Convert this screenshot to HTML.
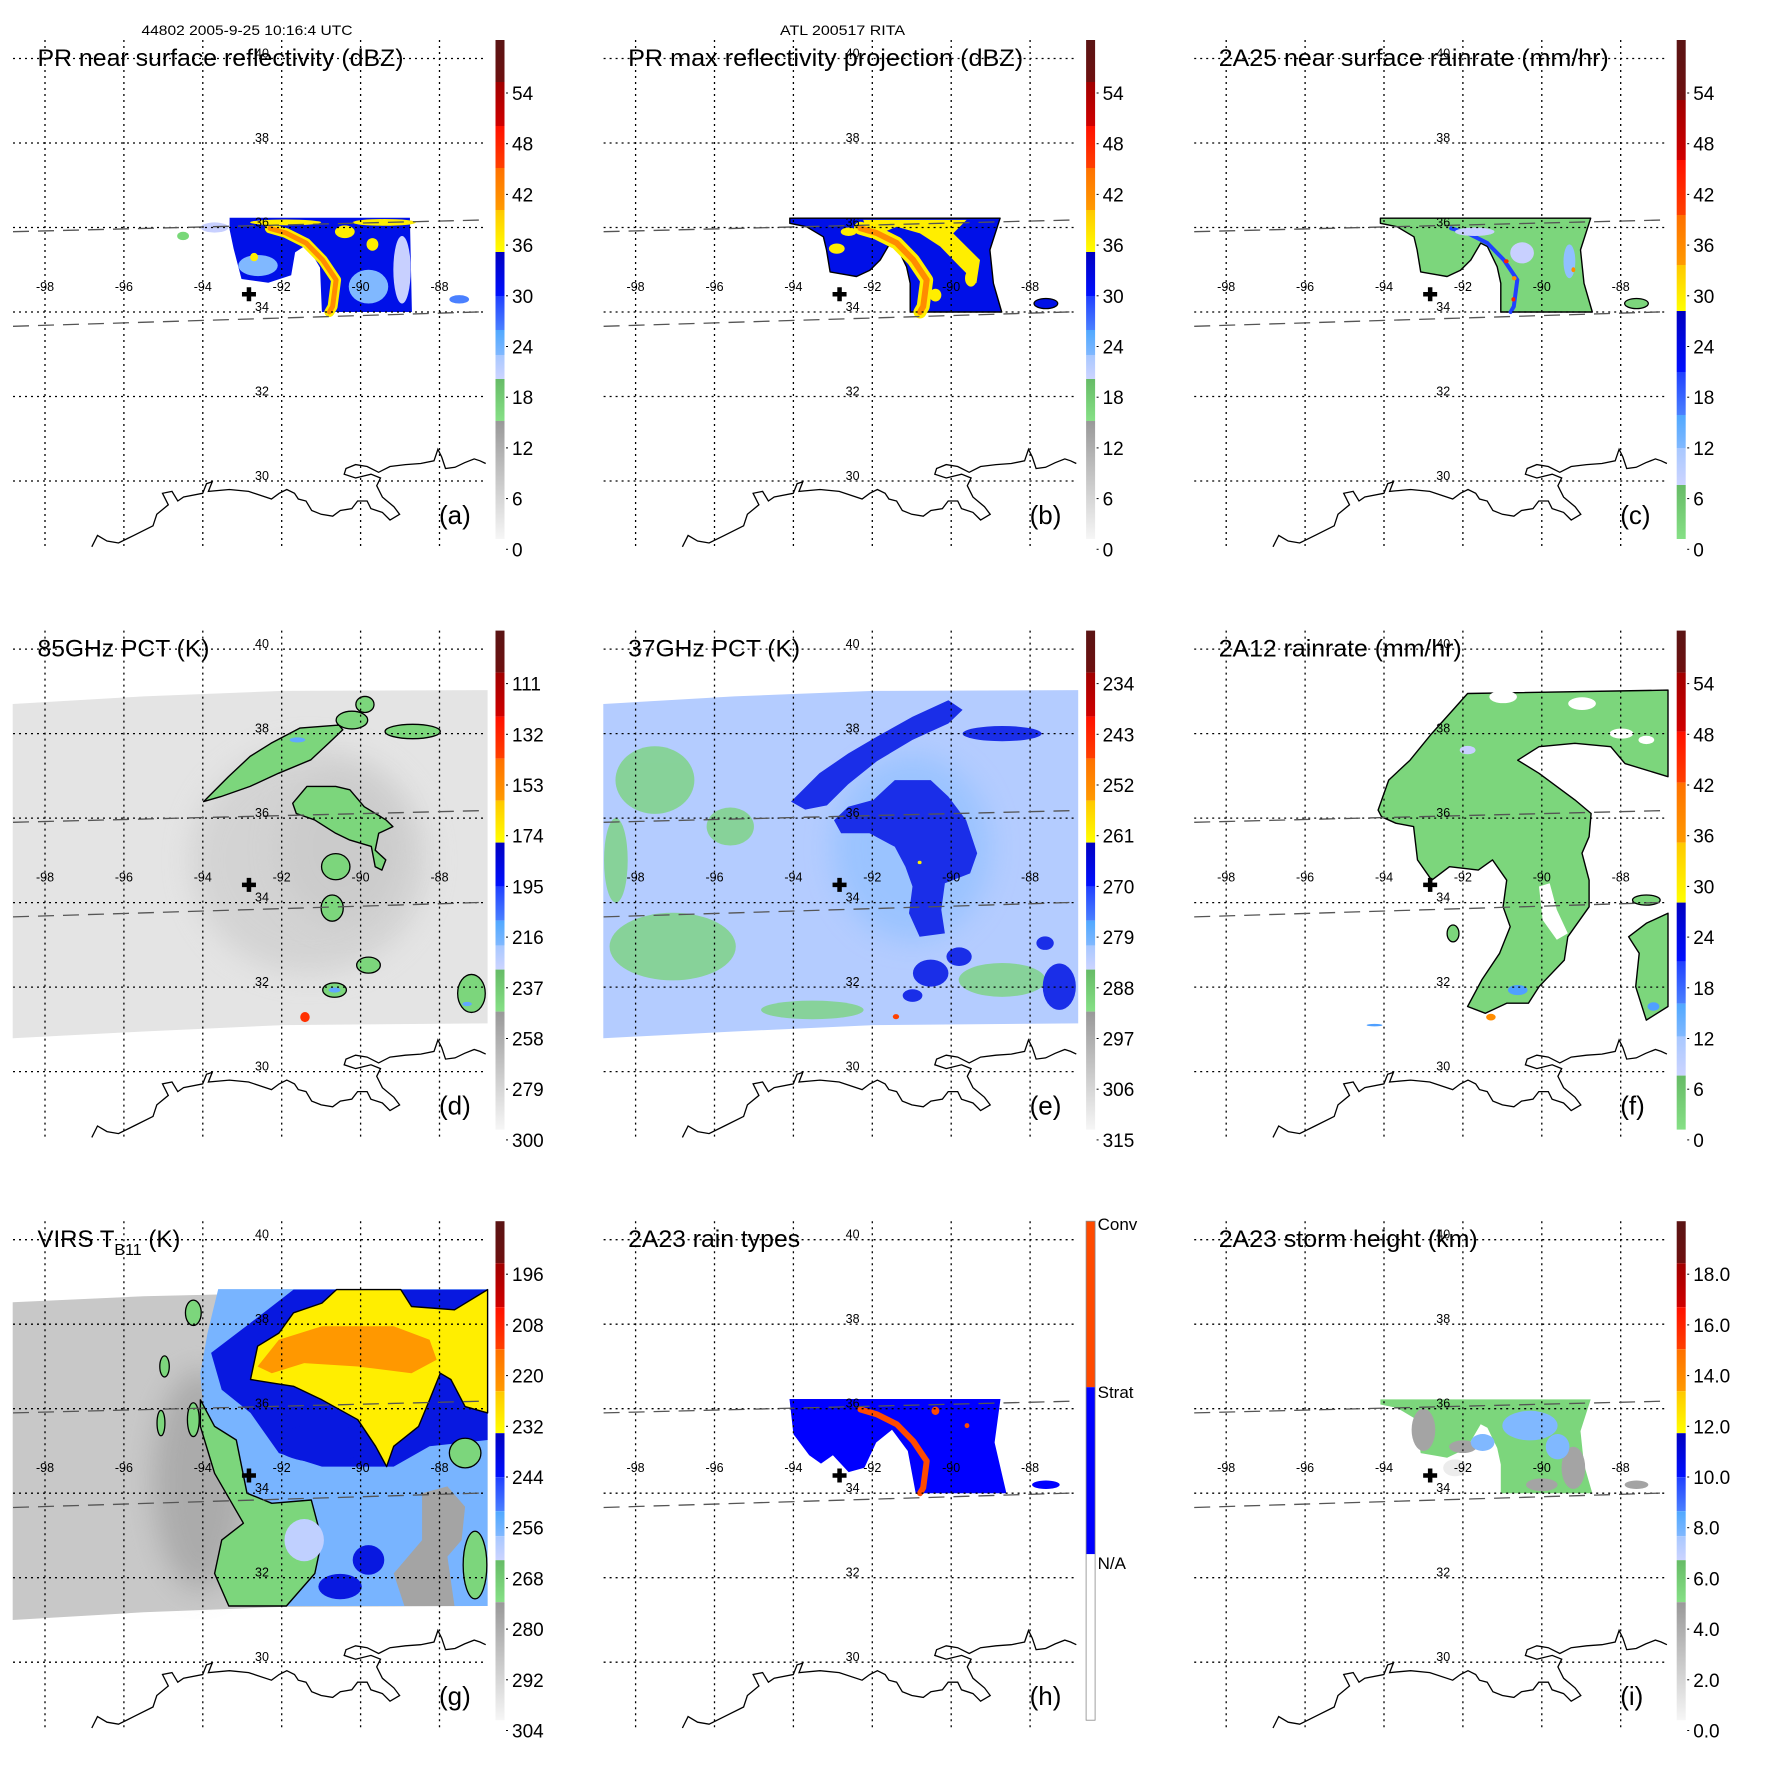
<!DOCTYPE html>
<html><head><meta charset="utf-8"><style>
html,body{margin:0;padding:0;background:#fff;}
svg{display:block;font-family:"Liberation Sans",sans-serif;}
</style></head><body>
<svg id="fig" xmlns="http://www.w3.org/2000/svg" width="1771" height="1771" viewBox="0 0 1771 1771">
<defs>
<filter id="blur" x="-50%" y="-50%" width="200%" height="200%"><feGaussianBlur stdDeviation="14"/></filter>
</defs>
<text x="141.5" y="35" font-size="14" textLength="211" lengthAdjust="spacingAndGlyphs">44802 2005-9-25 10:16:4 UTC</text>
<text x="780" y="35" font-size="14" textLength="125" lengthAdjust="spacingAndGlyphs">ATL 200517 RITA</text>
</svg>
<script>
// ---------- colormap data ----------
const dbzBounds=[3,9,15,21,24,27,30,36,39,45,51,57];
const dbzColors=['#f0f0f0','#d4d4d4','#ababab','#78d878','#c8d0ff','#80b8ff','#4a80ff','#0010e8','#ffee00','#ff8c00','#ff2000','#b00000','#601818'];
const rainBounds=[6,9,12,18,24,30,36,42,48,54];
const rainColors=['#7cd67c','#c8d0ff','#90c0ff','#50a0ff','#2040ff','#0000e0','#ffee00','#ff8c00','#ff2000','#b00000','#601818'];
const p85Bounds=[150,170,180,205,225,250,262,275,290];
const p85Colors=['#ff3000','#ff9000','#ffee00','#1030f0','#60a8ff','#7cd67c','#a8a8a8','#c6c6c6','#e4e4e4','#f2f2f2'];
const p37Bounds=[256,262,268,272,276,280,286,292];
const p37Colors=['#ff4000','#ffee00','#1a2ee8','#3060ff','#5c9cff','#90c0ff','#b4ccff','#78d478','#a8a8a8'];
const virsBounds=[214,226,238,244,250,256,262,274,282,292];
const virsColors=['#ff3000','#ff9800','#ffee00','#0818e0','#3050ff','#78b4ff','#c0d0ff','#7cd67c','#a4a4a4','#c8c8c8','#dedede'];
const typeBounds=[1.5,2.5];
const typeColors=['#ffffff','#0000ff','#ff4a00'];
const htBounds=[2,5,7,8,10,12];
const htColors=['#ececec','#a4a4a4','#7cd67c','#c0d0ff','#80b8ff','#1030f0','#ffee00'];

// ---------- PR swath shapes (lon/lat) ----------
const prBodyWide=[[-94.09,36.22],[-88.76,36.22],[-89.02,35.47],[-88.93,34.68],[-88.72,34.0],[-91.04,34.0],[-91.04,34.68],[-91.13,35.07],[-91.38,35.55],[-91.55,35.63],[-91.80,35.23],[-92.06,34.99],[-92.40,34.84],[-92.65,34.88],[-93.07,34.95],[-93.16,35.47],[-93.24,35.78],[-93.67,36.02],[-94.09,36.10]];
const prBodyA=[[-93.32,36.23],[-88.75,36.23],[-88.70,34.0],[-90.98,34.0],[-91.03,35.05],[-91.37,35.59],[-91.66,35.41],[-91.76,34.87],[-92.34,34.69],[-93.02,34.78],[-93.22,35.5],[-93.32,35.95]];
const ribbonLonLat=[[-92.3,35.98],[-91.89,35.87],[-91.38,35.63],[-90.96,35.23],[-90.62,34.76],[-90.71,34.13],[-90.79,34.0]];
const yellowZoneB=[[-92.23,36.18],[-89.61,36.18],[-89.95,35.86],[-89.27,35.23],[-89.36,34.68],[-89.78,35.07],[-90.28,35.55],[-90.79,35.86],[-91.38,36.02],[-91.80,35.86],[-92.14,35.94]];

// panel a
const aPolys=[[31,prBodyA]];
const aBlobs=[[-92.6,35.1,0.5,0.25,25],[-89.8,34.6,0.5,0.4,25],[-88.95,35.0,0.22,0.8,23],[-93.7,36.0,0.35,0.12,22],[-91.9,36.12,0.9,0.07,37],[-89.4,36.12,0.8,0.08,37],[-90.4,35.9,0.25,0.15,37],[-89.7,35.6,0.15,0.15,37],[-92.7,35.3,0.1,0.1,37],[-87.5,34.3,0.25,0.1,27],[-94.5,35.8,0.15,0.1,18]];
const aRibbon=[44];
// panel b
const bPolys=[[32,prBodyWide],[37,yellowZoneB]];
const bBlobs=[[-92.9,35.5,0.2,0.12,37],[-89.5,34.8,0.15,0.2,37],[-92.6,35.9,0.2,0.1,37],[-87.6,34.2,0.3,0.12,32],[-90.4,34.4,0.15,0.15,36.5]];
const bRibbon=[44];
// panel c
const cPolys=[[3,prBodyWide]];
const cBlobs=[[-91.7,35.9,0.5,0.1,8],[-89.3,35.2,0.15,0.4,10],[-90.5,35.4,0.3,0.25,8],[-87.6,34.2,0.3,0.12,3]];
const cRibbon=[20];
const cSpots=[[-90.9,35.2,0.06,0.05,45],[-90.7,34.8,0.06,0.05,40],[-90.72,34.3,0.05,0.05,45],[-89.2,35.0,0.05,0.06,40]];
// panel h
const hPolys=[[2,[[-94.1,36.23],[-88.75,36.23],[-88.9,35.2],[-88.6,34.0],[-90.9,34.0],[-91.1,35.0],[-91.5,35.5],[-91.9,35.2],[-92.2,34.6],[-92.6,34.5],[-93.0,34.9],[-93.3,34.7],[-93.6,34.9],[-94.0,35.4]]]];
const hBlobs=[[-87.6,34.2,0.35,0.1,2],[-90.4,35.95,0.1,0.1,3],[-89.6,35.6,0.06,0.06,3]];
const hRibbon=[3];
// panel i
const iPolys=[[6,prBodyWide]];
const iBlobs=[[-93.0,35.5,0.3,0.5,4],[-92.0,35.1,0.35,0.15,4],[-89.2,34.6,0.3,0.5,4],[-90.0,34.2,0.4,0.15,4],[-90.3,35.6,0.7,0.35,8.5],[-91.5,35.2,0.3,0.2,8.5],[-89.6,35.1,0.3,0.3,8.5],[-92.2,34.6,0.3,0.2,1],[-87.6,34.2,0.3,0.1,4]];

// ---------- PMW / VIRS swath shapes ----------
const pmwSwath=[[-98.82,38.70],[-95.5,38.88],[-91.97,39.01],[-86.78,39.03],[-86.78,31.14],[-91.97,31.10],[-95.5,30.95],[-98.82,30.79]];
// panel d
const dPolys=[[286,pmwSwath],
 [245,[[-93.98,36.39],[-93.35,36.98],[-92.8,37.46],[-92.27,37.77],[-91.54,38.13],[-90.55,38.2],[-90.45,38.09],[-90.81,37.77],[-91.26,37.38],[-92.08,37.06],[-92.8,36.75],[-93.54,36.51]]],
 [245,[[-91.72,36.35],[-91.36,36.75],[-90.63,36.75],[-90.27,36.67],[-89.91,36.27],[-89.36,35.96],[-89.18,35.8],[-89.54,35.64],[-89.63,35.24],[-89.36,35.01],[-89.46,34.77],[-89.63,34.85],[-89.73,35.33],[-90.27,35.48],[-90.63,35.64],[-91.17,35.96],[-91.63,36.11]]]];
const dBlobs=[[-90.63,34.85,0.36,0.31,245],[-90.72,33.87,0.28,0.31,245],[-89.8,32.52,0.3,0.19,245],[-90.66,31.93,0.3,0.17,245],[-90.66,31.93,0.15,0.06,210],[-87.19,31.85,0.35,0.45,245],[-87.3,31.6,0.12,0.05,210],[-89.89,38.69,0.23,0.19,245],[-90.22,38.32,0.4,0.21,245],[-88.68,38.05,0.7,0.17,245],[-91.6,37.85,0.2,0.06,220],[-91.41,31.29,0.12,0.12,140]];
const dShade=[[-91.3,35.0,3.0,2.7,272],[-90.5,35.3,1.6,1.8,266]];
// panel e
const eGreen=[[-97.06,32.96,1.6,0.8,290],[-97.51,36.9,1.0,0.8,290],[-93.52,31.46,1.3,0.22,290],[-88.71,32.17,1.1,0.4,290],[-95.6,35.8,0.6,0.45,290],[-98.5,35.0,0.3,1.0,290]];
const eShade=[[-91.0,35.3,2.0,2.2,277]];
const ePolys=[[282,pmwSwath],
 [266,[[-94.06,36.39],[-93.34,37.06],[-92.61,37.53],[-91.88,37.93],[-90.98,38.40],[-90.07,38.79],[-89.71,38.56],[-90.07,38.24],[-90.98,37.85],[-91.88,37.35],[-92.61,36.8],[-93.15,36.3],[-93.70,36.2]]],
 [266,[[-91.97,36.43],[-91.43,36.90],[-90.52,36.90],[-90.07,36.51],[-89.62,35.95],[-89.34,35.17],[-89.52,34.69],[-90.16,34.46],[-90.25,33.83],[-90.16,33.27],[-90.80,33.19],[-91.07,33.75],[-90.98,34.38],[-91.16,34.85],[-91.43,35.32],[-92.07,35.64],[-92.79,35.64],[-92.97,35.95],[-92.61,36.27]]]];
const eBlobs=[[-88.71,38.0,1.0,0.18,267],[-90.52,32.33,0.45,0.32,266],[-89.8,32.72,0.32,0.22,266],[-87.26,32.01,0.42,0.55,266],[-87.62,33.04,0.22,0.16,267],[-90.98,31.8,0.25,0.15,267],[-90.8,34.95,0.05,0.04,258],[-91.4,31.3,0.08,0.06,250]];
// panel f
const fPolys=[[2,[[-94.15,36.19],[-93.88,36.90],[-93.34,37.37],[-92.79,38.0],[-92.25,38.56],[-91.88,38.95],[-86.80,39.03],[-86.80,36.98],[-87.89,37.29],[-88.25,37.69],[-89.16,37.77],[-90.07,37.69],[-90.61,37.37],[-90.07,37.06],[-89.16,36.43],[-88.75,36.11],[-88.80,35.56],[-88.98,35.17],[-88.80,34.53],[-88.80,33.90],[-89.34,33.19],[-89.43,32.64],[-90.07,32.01],[-90.34,31.62],[-90.89,31.62],[-91.43,31.38],[-91.88,31.54],[-91.52,32.17],[-91.07,32.80],[-90.80,33.43],[-90.98,33.90],[-90.89,34.53],[-91.25,35.01],[-91.61,34.77],[-92.34,34.85],[-92.79,34.53],[-93.15,35.01],[-93.25,35.80],[-93.70,35.88],[-94.06,36.03]]],
 [2,[[-87.80,33.19],[-87.35,33.51],[-86.80,33.75],[-86.80,31.54],[-87.35,31.22],[-87.62,32.01],[-87.53,32.80]]],
 [-1,[[-90.07,34.38],[-89.80,34.46],[-89.62,33.83],[-89.34,33.27],[-89.62,33.12],[-89.98,33.59]]]];
const fBlobs=[[-90.98,38.87,0.35,0.15,-1],[-88.98,38.71,0.35,0.15,-1],[-87.98,38.0,0.3,0.12,-1],[-87.35,37.85,0.2,0.1,-1],[-87.35,34.06,0.35,0.12,2],[-92.25,33.27,0.15,0.2,2],[-90.61,31.93,0.25,0.12,15],[-91.29,31.29,0.12,0.08,40],[-87.17,31.54,0.15,0.1,14],[-91.88,37.61,0.2,0.1,8],[-94.24,31.1,0.2,0.03,12]];
// panel g
const gSwath=[[-98.82,38.52],[-95.5,38.66],[-91.97,38.74],[-86.78,38.83],[-86.78,31.33],[-91.97,31.31],[-95.5,31.18],[-98.82,31.0]];
const gShade=[[-94.06,34.3,1.2,2.6,277]];
const gPolys=[[288,gSwath],
 [253,[[-93.61,38.83],[-86.78,38.83],[-86.78,31.33],[-93.34,31.33],[-93.70,32.10],[-93.52,32.89],[-92.97,33.29],[-92.88,34.0],[-93.15,35.26],[-93.97,35.74],[-94.06,36.84],[-93.88,37.79]]],
 [266,[[-94.06,36.21],[-93.70,35.58],[-93.15,35.26],[-92.88,34.0],[-92.25,33.76],[-91.25,33.84],[-90.98,32.89],[-91.16,32.10],[-91.88,31.33],[-93.34,31.33],[-93.70,32.10],[-93.52,32.89],[-92.97,33.29],[-93.70,34.47],[-94.06,35.58]]],
 [242,[[-93.79,37.32],[-92.79,38.03],[-91.70,38.82],[-86.78,38.82],[-86.78,35.26],[-88.25,35.11],[-89.16,34.63],[-90.98,34.63],[-92.07,34.95],[-92.79,35.90],[-93.52,36.45]]],
 [230,[[-92.79,36.69],[-92.61,37.48],[-92.07,37.79],[-91.70,38.27],[-90.98,38.50],[-90.61,38.82],[-88.98,38.82],[-88.71,38.42],[-87.62,38.34],[-86.78,38.82],[-86.78,35.90],[-87.35,36.05],[-87.71,36.69],[-87.98,36.84],[-88.25,36.21],[-88.53,35.58],[-89.16,35.11],[-89.34,34.63],[-89.62,35.11],[-90.07,35.74],[-90.98,36.21],[-91.70,36.53],[-92.25,36.61]]],
 [220,[[-92.61,37.0],[-92.07,37.63],[-90.98,37.95],[-89.16,37.95],[-88.25,37.63],[-88.07,37.16],[-88.71,36.84],[-90.07,37.0],[-91.43,37.08],[-92.25,36.84]]],
 [280,[[-88.44,34.0],[-87.80,34.16],[-87.35,33.68],[-87.44,32.89],[-87.80,32.50],[-87.62,31.33],[-88.89,31.33],[-89.16,32.10],[-88.44,32.89]]]];
const gBlobs=[[-91.43,32.89,0.5,0.5,259],[-90.98,35.18,1.2,0.45,240],[-90.52,31.79,0.55,0.3,240],[-89.80,32.42,0.4,0.35,242],[-87.35,34.95,0.4,0.35,266],[-87.1,32.3,0.3,0.8,266],[-94.24,38.27,0.2,0.3,266],[-94.97,37.0,0.12,0.25,266],[-95.06,35.66,0.1,0.3,266],[-94.24,35.74,0.15,0.4,266]];

// ---------- colorbar tick labels ----------
const ticksDBZ=['54','48','42','36','30','24','18','12','6','0'];
const ticks85=['111','132','153','174','195','216','237','258','279','300'];
const ticks37=['234','243','252','261','270','279','288','297','306','315'];
const ticksVIRS=['196','208','220','232','244','256','268','280','292','304'];
const ticksHT=['18.0','16.0','14.0','12.0','10.0','8.0','6.0','4.0','2.0','0.0'];
const typeLabels=['Conv','Strat','N/A'];

const gridLats=[40,38,36,34,32,30];
const gridLons=[-98,-96,-94,-92,-90,-88];
const centerLonLat=[-92.83,34.42];

// ---------- helpers ----------
const NS='http://www.w3.org/2000/svg';
const svg=document.getElementById('fig');
function X(lon){return 45+(lon+98)*39.45;}
function Y(lat){return 312-(lat-34)*42.25;}
function el(tag,attrs,parent){const e=document.createElementNS(NS,tag);for(const k in attrs)e.setAttribute(k,attrs[k]);parent.appendChild(e);return e;}
function cmap(v,b,c){if(v<0)return '#ffffff';let i=0;while(i<b.length&&v>=b[i])i++;return c[i];}
function ptsStr(pts){return pts.map(p=>X(p[0]).toFixed(1)+','+Y(p[1]).toFixed(1)).join(' ');}

const barStd=[[40,82,'#5a1414','#6e1010'],[82,126,'#a00000','#d00000'],[126,168,'#ff1000','#ff4000'],[168,210,'#ff7000','#ff9a00'],[210,252,'#ffc800','#ffff00'],[252,296,'#0000c0','#0010ff'],[296,330,'#2040ff','#4a80ff'],[330,355,'#50a8ff','#80b8ff'],[355,379,'#a8c8ff','#ccd4ff'],[379,421,'#66bb66','#86e086'],[421,539,'#999999','#f6f6f6']];
const barRainC=[[40,100,'#5a1414','#6e1010'],[100,160,'#a00000','#d00000'],[160,215,'#ff1000','#ff4000'],[215,265,'#ff7000','#ff9a00'],[265,311,'#ffc800','#ffff00'],[311,372,'#0000c0','#0010ff'],[372,415,'#2040ff','#4a80ff'],[415,448,'#50a8ff','#80b8ff'],[448,485,'#a8c8ff','#ccd4ff'],[485,539,'#66bb66','#86e086']];
const barRainF=[[40,82,'#5a1414','#6e1010'],[82,141,'#a00000','#d00000'],[141,192,'#ff1000','#ff4000'],[192,252,'#ff7000','#ff9a00'],[252,312,'#ffc800','#ffff00'],[312,371,'#0000c0','#0010ff'],[371,413,'#2040ff','#4a80ff'],[413,446,'#50a8ff','#80b8ff'],[446,485,'#a8c8ff','#ccd4ff'],[485,539,'#66bb66','#86e086']];
const barType=[[40,206,'#ff4a00','#ff4a00'],[206,373,'#0000ff','#0000ff'],[373,539,'#ffffff','#ffffff']];

const coastPath='M91.8,546.8 L97.5,535.4 L107,541 L118.5,543 L133.8,535.4 L153,525.8 L156.8,514.3 L168.3,504.8 L162.5,493.3 L172,491.4 L177.8,501 L183.6,497 L202.7,493.3 L206.5,483.7 L212.2,481.8 L208.4,491.4 L229.4,489.5 L248.6,491.4 L271.5,499 L279.2,493.3 L286.8,489.5 L294.5,493.3 L298.3,499 L306,501 L311.7,510.5 L321.2,514.3 L332.7,516.2 L340.3,510.5 L351.8,508.6 L357.6,501 L367.1,501 L370.9,508.6 L382.4,512.4 L390,520 L399.6,514.3 L393.9,506.7 L382.4,497.1 L376.7,485.7 L380.5,478 L371,474.2 L355.6,478 L344.2,474.2 L346,468.5 L355.6,464.6 L367.1,466.5 L378.6,472.3 L390,466.5 L405.4,464.6 L420.7,463.5 L434,460.8 L437.9,449.3 L441.7,457 L445.5,468.5 L455,467.3 L464.6,462.7 L474.2,458.9 L480,460.8 L485.7,463.5';

let gradId=0;
function drawBar(g,bands,ticks,labels){
  const cb=el('g',{},g);
  
  
  bands.forEach(b=>{
    const id='cg'+(gradId++);
    const lg=el('linearGradient',{id:id,x1:0,y1:0,x2:0,y2:1},svg.querySelector('defs'));
    el('stop',{offset:0,'stop-color':b[2]},lg);el('stop',{offset:1,'stop-color':b[3]},lg);
    el('rect',{x:495.5,y:b[0],width:9,height:b[1]-b[0],fill:'url(#'+id+')'},cb);
  });
  if(labels){
    el('rect',{x:495.5,y:40,width:9,height:499,fill:'none',stroke:'#888','stroke-width':0.8},cb);
    const ly=[43,211,382];
    labels.forEach((t,k)=>{const tx=el('text',{x:507,y:ly[k]+6,'font-size':17},cb);tx.textContent=t;
      
      });
    return;
  }
  ticks.forEach((t,k)=>{
    const y=93+50.7*k;
    el('line',{x1:506,x2:508,y1:y,y2:y,stroke:'#000','stroke-width':1},cb);
    const tx=el('text',{x:512,y:y+7,'font-size':19},cb);tx.textContent=t;
    
    
  });
}

function drawShapes(g,polys,blobs,b,c,outlineVals,ribbonVal,ribbonW,op){
  const dg=el('g',{},g);
  
  
  if(op)dg.setAttribute('opacity',op);
  (polys||[]).forEach(p=>{
    const o=outlineVals&&outlineVals.indexOf(p[0])>=0;
    const e=el('polygon',{points:ptsStr(p[1]),fill:cmap(p[0],b,c),stroke:o?'#000':'none','stroke-width':1.4,'stroke-linejoin':'round'},dg);
    
    
  });
  if(ribbonVal!==undefined){
    const d='M'+ribbonLonLat.map(p=>X(p[0]).toFixed(1)+','+Y(p[1]).toFixed(1)).join(' L');
    const r=el('path',{d:d,fill:'none',stroke:cmap(ribbonVal,b,c),'stroke-width':ribbonW,'stroke-linejoin':'round','stroke-linecap':'round'},dg);
    
    
  }
  (blobs||[]).forEach(s=>{
    const o=outlineVals&&outlineVals.indexOf(s[4])>=0;
    const e=el('ellipse',{cx:X(s[0]),cy:Y(s[1]),rx:s[2]*39.45,ry:s[3]*42.25,fill:cmap(s[4],b,c),stroke:o?'#000':'none','stroke-width':1.3},dg);
    
    
  });
}
function drawShade(g,list,b,c,op){
  list.forEach(s=>{
    const e=el('ellipse',{cx:X(s[0]),cy:Y(s[1]),rx:s[2]*39.45,ry:s[3]*42.25,fill:cmap(s[4],b,c),filter:'url(#blur)',opacity:op},g);
    
    
  });
}

function drawMap(g){
  const gr=el('g',{stroke:'#000','stroke-width':1.3,'stroke-dasharray':'2,4',fill:'none'},g);
  
  
  gridLats.forEach(la=>{el('line',{x1:13,x2:486,y1:Y(la),y2:Y(la)},gr);});
  gridLons.forEach(lo=>{el('line',{x1:X(lo),x2:X(lo),y1:40,y2:548},gr);});
  const sw=el('g',{stroke:'#555','stroke-width':1.3,'stroke-dasharray':'16,9',fill:'none'},g);
  
  
  el('line',{x1:13,y1:231.7,x2:486,y2:219.9},sw);
  el('line',{x1:13,y1:326.3,x2:486,y2:311.7},sw);
  const cs=el('path',{d:coastPath,fill:'none',stroke:'#000','stroke-width':1.3},g);
  
  
  gridLons.forEach(lo=>{const t=el('text',{x:X(lo),y:291,'font-size':12.5,'text-anchor':'middle'},g);t.textContent=String(lo);
    
    });
  gridLats.forEach(la=>{const t=el('text',{x:262,y:Y(la)-1,'font-size':12.5,'text-anchor':'middle'},g);t.textContent=String(la);
    
    });
  const cx=X(centerLonLat[0]),cy=Y(centerLonLat[1]);
  const cr=el('path',{d:`M${cx-7},${cy} H${cx+7} M${cx},${cy-7} V${cy+7}`,stroke:'#000','stroke-width':4.5},g);
  
  
}

function panel(col,row,name,title,tlen,label,fn){
  const g=el('g',{transform:`translate(${(col*590.6).toFixed(1)},${(row*590.6).toFixed(1)})`},svg);
  
  
  fn(g);
  drawMap(g);
  const t=el('text',{x:37.5,y:66,'font-size':24,textLength:tlen,lengthAdjust:'spacingAndGlyphs'},g);
  if(Array.isArray(title)){t.removeAttribute('textLength');t.appendChild(document.createTextNode(title[0]));
    const s=el('tspan',{'font-size':16,dy:8},t);s.textContent=title[1];
    const s2=el('tspan',{dy:-8},t);s2.textContent=title[2];}
  else t.textContent=title;
  
  
  const l=el('text',{x:439,y:524,'font-size':26},g);l.textContent=label;
  
  
  return g;
}

panel(0,0,'panel-a-pr-reflectivity','PR near surface reflectivity (dBZ)',366,'(a)',g=>{
  drawShapes(g,aPolys,aBlobs,dbzBounds,dbzColors,null,37,10);
  drawShapes(g,[],[],dbzBounds,dbzColors,null,aRibbon[0],5);
  drawBar(g,barStd,ticksDBZ);
});
panel(1,0,'panel-b-pr-max-reflectivity','PR max reflectivity projection (dBZ)',395,'(b)',g=>{
  drawShapes(g,bPolys,bBlobs,dbzBounds,dbzColors,[32],37,13);
  drawShapes(g,[],[],dbzBounds,dbzColors,null,bRibbon[0],6);
  drawBar(g,barStd,ticksDBZ);
});
panel(2,0,'panel-c-2a25-rainrate','2A25 near surface rainrate (mm/hr)',390,'(c)',g=>{
  drawShapes(g,cPolys,cBlobs,rainBounds,rainColors,[3],cRibbon[0],4);
  drawShapes(g,[],cSpots,rainBounds,rainColors,null);
  drawBar(g,barRainC,ticksDBZ);
});
panel(0,1,'panel-d-85ghz-pct','85GHz PCT (K)',172,'(d)',g=>{
  drawShapes(g,[dPolys[0]],[],p85Bounds,p85Colors,null);
  drawShade(g,dShade,p85Bounds,p85Colors,0.55);
  drawShapes(g,dPolys.slice(1),dBlobs,p85Bounds,p85Colors,[245]);
  drawBar(g,barStd,ticks85);
});
panel(1,1,'panel-e-37ghz-pct','37GHz PCT (K)',172,'(e)',g=>{
  drawShapes(g,[ePolys[0]],[],p37Bounds,p37Colors,null);
  drawShade(g,eShade,p37Bounds,p37Colors,0.7);
  drawShapes(g,[],eGreen,p37Bounds,p37Colors,null,undefined,0,0.75);
  drawShapes(g,ePolys.slice(1),eBlobs,p37Bounds,p37Colors,null);
  drawBar(g,barStd,ticks37);
});
panel(2,1,'panel-f-2a12-rainrate','2A12 rainrate (mm/hr)',243,'(f)',g=>{
  drawShapes(g,fPolys,fBlobs,rainBounds,rainColors,[2]);
  drawBar(g,barRainF,ticksDBZ);
});
panel(0,2,'panel-g-virs-tb11',['VIRS T','B11',' (K)'],147,'(g)',g=>{
  drawShapes(g,[gPolys[0]],[],virsBounds,virsColors,null);
  drawShade(g,gShade,virsBounds,virsColors,0.8);
  drawShapes(g,gPolys.slice(1),gBlobs,virsBounds,virsColors,[266,230]);
  drawBar(g,barStd,ticksVIRS);
});
panel(1,2,'panel-h-2a23-rain-types','2A23 rain types',172,'(h)',g=>{
  drawShapes(g,hPolys,hBlobs,typeBounds,typeColors,null,hRibbon[0],6);
  drawBar(g,barType,null,typeLabels);
});
panel(2,2,'panel-i-2a23-storm-height','2A23 storm height (km)',259,'(i)',g=>{
  drawShapes(g,iPolys,iBlobs,htBounds,htColors,null);
  drawBar(g,barStd,ticksHT);
});
</script>
</body></html>
